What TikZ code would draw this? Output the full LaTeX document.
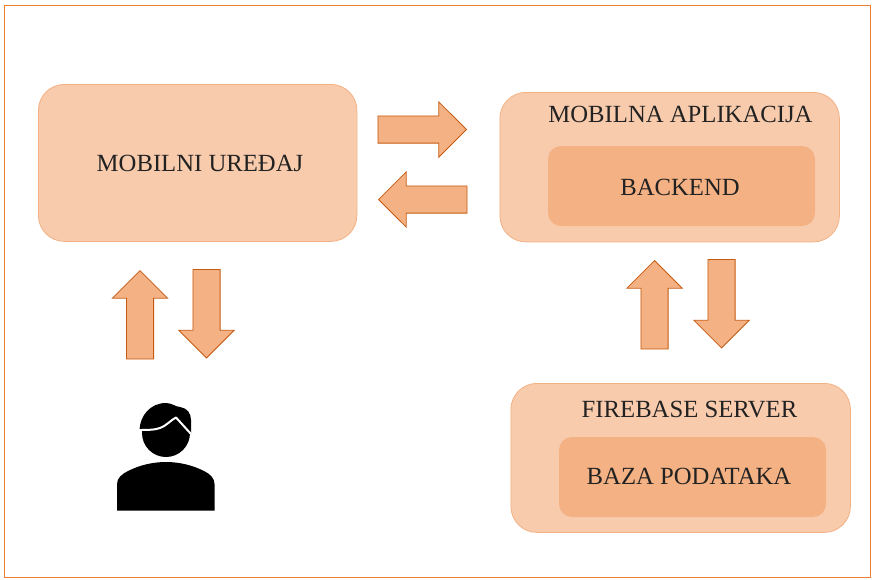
\documentclass[tikz,border=0pt]{standalone}
\usepackage{fontspec}
\setmainfont{Liberation Serif}
\usetikzlibrary{shapes.arrows}
\definecolor{frameor}{HTML}{ED7D31}
\definecolor{lightor}{HTML}{F8CBAD}
\definecolor{midor}{HTML}{F4B183}
\definecolor{darkor}{HTML}{C55A11}
\definecolor{txt}{HTML}{222222}
\tikzset{
  x=1pt,y=-1pt,
  outerbox/.style={rectangle,rounded corners=26pt,fill=lightor,draw=midor,line width=.8pt,minimum width=#1,anchor=north west,inner sep=0pt},
  innerbox/.style={rectangle,rounded corners=13pt,fill=midor,draw=none,minimum width=267pt,minimum height=80pt,anchor=center,inner sep=0pt},
  blockarrow/.style={single arrow,shape border rotate=#1,single arrow head extend=14pt,single arrow head indent=0pt,
    inner sep=13.2pt,minimum height=88.5pt,fill=midor,draw=darkor,line width=.8pt,anchor=tip},
  lbl/.style={font=\fontsize{24.7}{28}\selectfont,text=txt,inner sep=0pt,anchor=center},
}
\begin{document}
\begin{tikzpicture}
\useasboundingbox (0,0) rectangle (873,579);
\draw[frameor,line width=1pt] (4.5,5.5) rectangle (870.5,577.5);
% boxes
\node[outerbox=318.5pt,minimum height=157pt] (device) at (38,84) {};
\node[outerbox=339.5pt,minimum height=149.5pt] (app) at (499.5,92) {};
\node[outerbox=339.5pt,minimum height=149pt] (fire) at (510.5,383) {};
\node[innerbox] (backend) at (681.5,186) {};
\node[innerbox] (baza) at (692.5,477) {};
% labels
\node[lbl] (t1) at (200,163) {MOBILNI UREĐAJ};
\node[lbl] (t2) at (680.5,114) {MOBILNA APLIKACIJA};
\node[lbl] (t3) at (680,187) {BACKEND};
\node[lbl] (t4) at (689.5,410) {FIREBASE SERVER};
\node[lbl] (t5) at (689,476) {BAZA PODATAKA};
% arrows
\node[blockarrow=0] (a1) at (467,129.5) {};
\node[blockarrow=180] (a2) at (378,199.5) {};
\node[blockarrow=90] (a3) at (140,270) {};
\node[blockarrow=270] (a4) at (206.5,358.5) {};
\node[blockarrow=90] (a5) at (654.5,260) {};
\node[blockarrow=270] (a6) at (721.5,348.5) {};
% person
\fill[black] (166,433) circle (24);
\fill[black] (139.5,430) .. controls (140,416) and (150,403) .. (166,403)
  .. controls (172,403) and (176,407) .. (180,407)
  .. controls (187,408) and (191,413) .. (191,420)
  -- (191,434) -- (166,440) -- cycle;
\draw[white,line width=2pt,line join=round] (138.5,430) .. controls (146,430) and (155,430) .. (160,428)
  .. controls (166,426) and (171,420) .. (176,417.5) -- (191,434);
\fill[black] (117,510.5) -- (117,484) .. controls (117,478) and (122,474) .. (128,471)
  .. controls (140,465) and (153,462) .. (166,462)
  .. controls (179,462) and (192,465) .. (204,471)
  .. controls (210,474) and (214.5,478) .. (214.5,484) -- (214.5,510.5) -- cycle;
\end{tikzpicture}
\end{document}
